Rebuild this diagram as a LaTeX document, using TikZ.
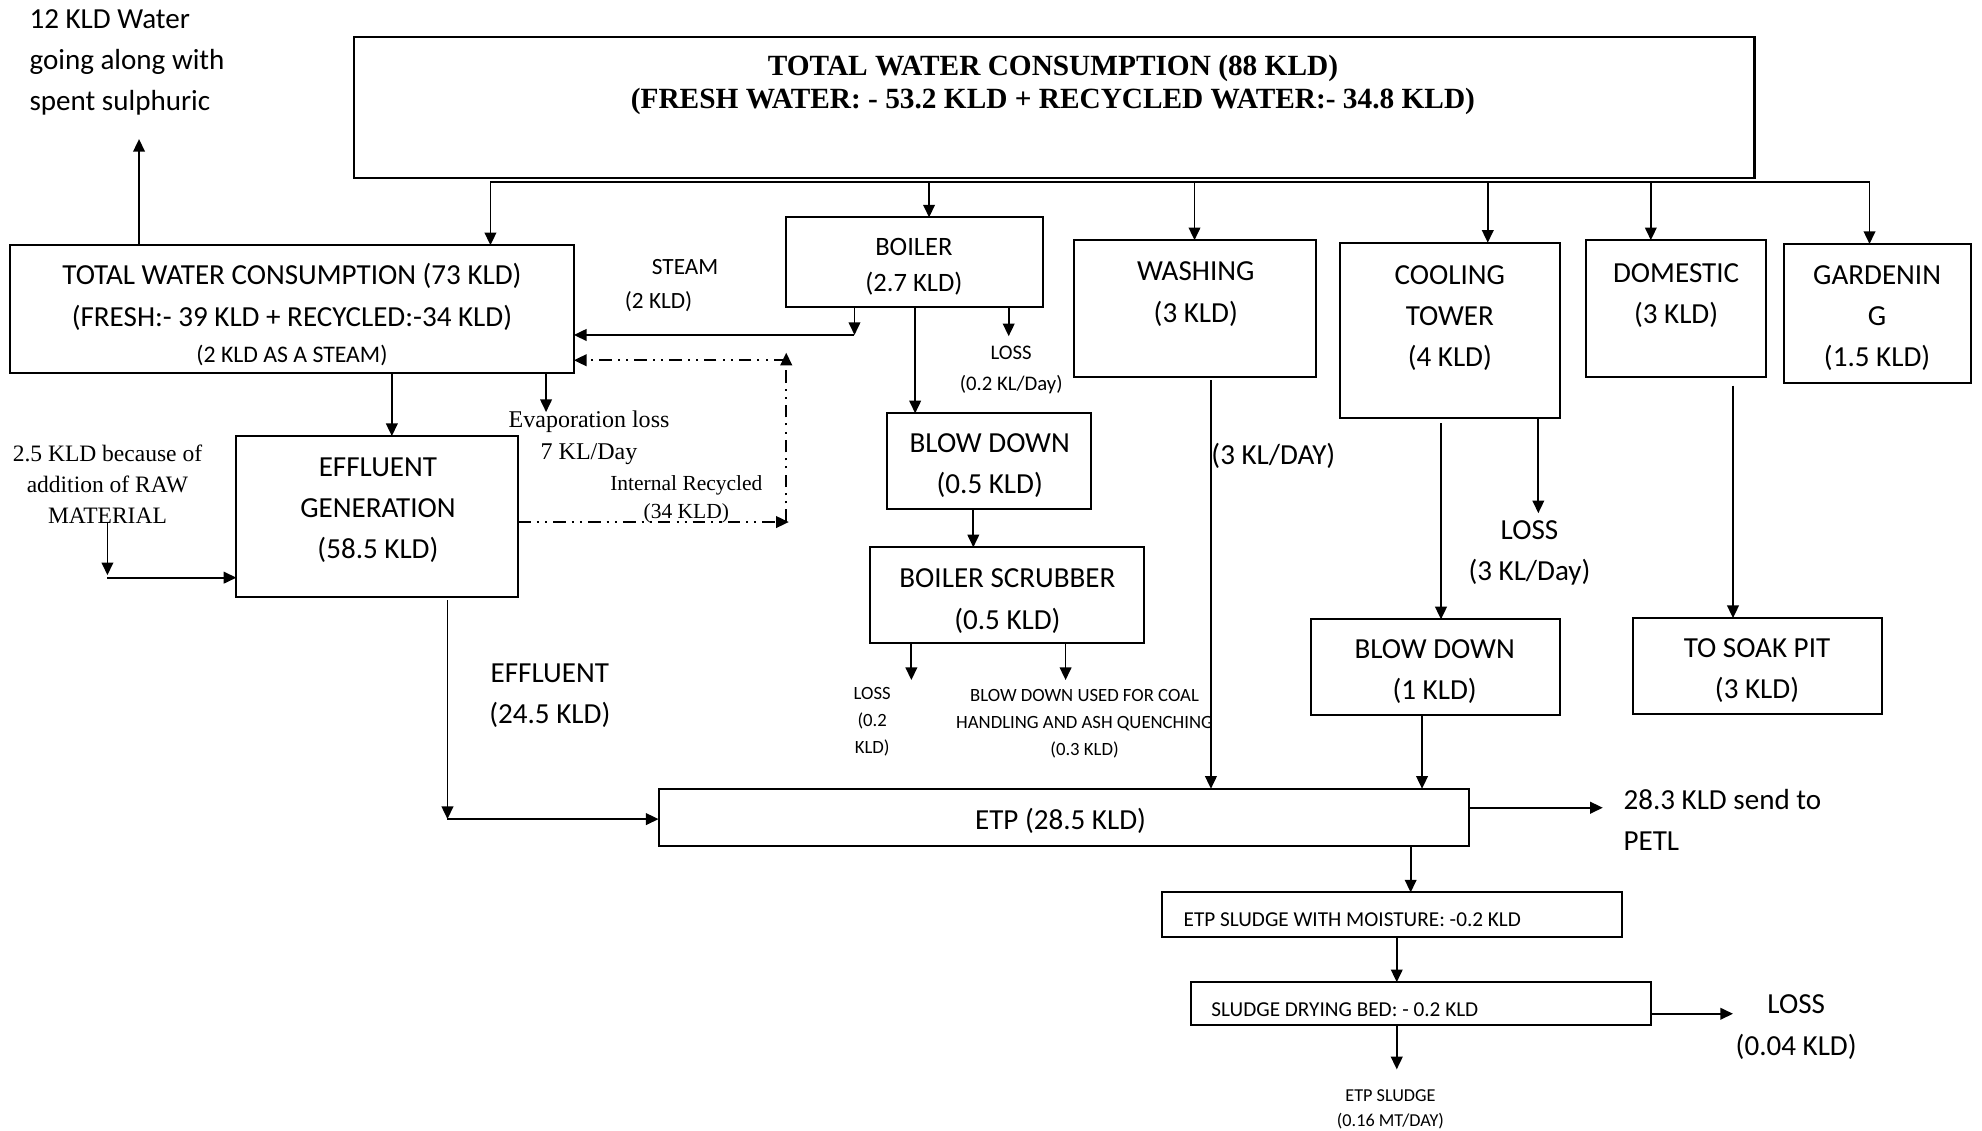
\documentclass[tikz,border=0pt]{standalone}
\usepackage{fontspec}
\setmainfont{Carlito}
\newfontfamily\tnr{Liberation Serif}
\usetikzlibrary{arrows.meta,calc}
\newcommand\myfs[2]{\fontsize{#1}{#2}\selectfont}
\newcommand\mybox[5]{\node[box,minimum width={(#4-#2)*0.5pt},minimum height={(#5-#3)*0.5pt}] (#1) at ({(#2+#4)/2},{(#3+#5)/2}) {};}
\begin{document}
\begin{tikzpicture}[x=0.5pt,y=-0.5pt,
 box/.style={draw,line width=0.8pt,inner sep=0pt,outer sep=0pt},
 arr/.style={line width=0.7pt,-{Triangle[length=5pt,width=4.6pt]}},
 ln/.style={line width=0.7pt},
 dd/.style={line width=0.7pt,dash pattern=on 5pt off 2.4pt on 0.8pt off 2.4pt on 0.8pt off 2.4pt},
 lab/.style={inner sep=0pt,align=center,yshift=-1.3pt,font=\myfs{11.5}{16.3}},
 sml/.style={inner sep=0pt,align=center,yshift=-1.1pt,font=\myfs{7.4}{10.7}},
 ser/.style={inner sep=0pt,align=center,yshift=-1.1pt}]
\useasboundingbox (0,0) rectangle (1568,894);

% boxes
\mybox{top}{280}{29}{1388}{141}
\mybox{t73}{8}{194}{454}{295}
\mybox{boiler}{622}{172}{825}{243}
\mybox{washing}{850}{190}{1041}{298}
\mybox{cooling}{1060}{192}{1234}{331}
\mybox{domestic}{1255}{190}{1397}{298}
\mybox{garden}{1411}{193}{1559}{303}
\mybox{effgen}{187}{345}{410}{472}
\mybox{bdown1}{702}{327}{863}{403}
\mybox{scrub}{688}{433}{905}{509}
\mybox{bdown2}{1037}{490}{1234}{566}
\mybox{soak}{1292}{489}{1489}{565}
\mybox{etp}{521}{624}{1162}{669}
\mybox{sludge}{919}{706}{1283}{741}
\mybox{dry}{942}{777}{1306}{811}

% texts
\node[lab,align=left,anchor=west] (l12) at (23,47) {12 KLD Water\\going along with\\spent sulphuric};
\node[inner sep=0pt,align=center,yshift=-1.5pt,font=\tnr\bfseries\myfs{11.6}{13}] (ttl) at (833,64) {TOTAL WATER CONSUMPTION (88 KLD)\\(FRESH WATER: - 53.2 KLD + RECYCLED WATER:- 34.8 KLD)};
\node[lab] (t73a) at (231,216) {TOTAL WATER CONSUMPTION (73 KLD)};
\node[lab] (t73b) at (231,249) {(FRESH:- 39 KLD + RECYCLED:-34 KLD)};
\node[lab,font=\myfs{9.4}{12}] (t73c) at (231,279) {(2 KLD AS A STEAM)};
\node[lab,font=\myfs{10.5}{14.5}] (boilt) at (723,208.5) {BOILER\\(2.7 KLD)};
\node[lab,font=\myfs{9.2}{12}] (steam) at (542,209) {STEAM};
\node[lab,font=\myfs{9.2}{12}] (steamq) at (521,236) {(2 KLD)};
\node[lab,font=\myfs{8.2}{12}] (bloss) at (800,290) {LOSS\\(0.2 KL/Day)};
\node[ser,font=\tnr\myfs{9.5}{12.5}] (evap) at (466,344) {Evaporation loss\\7 KL/Day};
\node[ser,font=\tnr\myfs{8.5}{11}] (irec) at (543,393) {Internal Recycled\\(34 KLD)};
\node[ser,font=\tnr\myfs{9.3}{12.3}] (raw) at (85,381) {2.5 KLD because of\\addition of RAW\\MATERIAL};
\node[lab] (efft) at (299,401) {EFFLUENT\\GENERATION\\(58.5 KLD)};
\node[lab] (effl) at (435,548) {EFFLUENT\\(24.5 KLD)};
\node[lab] (bd1t) at (783,366) {BLOW DOWN\\(0.5 KLD)};
\node[lab] (scrt) at (797,473) {BOILER SCRUBBER\\(0.5 KLD)};
\node[sml] (sloss) at (690,569) {LOSS\\(0.2\\KLD)};
\node[sml] (coal) at (858,570) {BLOW DOWN USED FOR COAL\\HANDLING AND ASH QUENCHING\\(0.3 KLD)};
\node[lab] (wast) at (946,230) {WASHING\\(3 KLD)};
\node[lab,anchor=west] (wkl) at (958,358) {(3 KL/DAY)};
\node[lab] (coolt) at (1147,249) {COOLING\\TOWER\\(4 KLD)};
\node[lab] (closs) at (1210,435) {LOSS\\(3 KL/Day)};
\node[lab] (domt) at (1326,231) {DOMESTIC\\(3 KLD)};
\node[lab] (gart) at (1485,249) {GARDENIN\\G\\(1.5 KLD)};
\node[lab] (bd2t) at (1135,529) {BLOW DOWN\\(1 KLD)};
\node[lab] (soakt) at (1390,528) {TO SOAK PIT\\(3 KLD)};
\node[lab] (etpt) at (839,647) {ETP (28.5 KLD)};
\node[lab,align=left,anchor=west] (petl) at (1284,646) {28.3 KLD send to\\PETL};
\node[lab,font=\myfs{8.4}{10},anchor=west] (sludt) at (936,725) {ETP SLUDGE WITH MOISTURE: -0.2 KLD};
\node[lab,font=\myfs{8.4}{10},anchor=west] (dryt) at (958,796) {SLUDGE DRYING BED: - 0.2 KLD};
\node[lab] (dloss) at (1421,810) {LOSS\\(0.04 KLD)};
\node[lab,font=\myfs{7.2}{10}] (etps) at (1100,875) {ETP SLUDGE\\(0.16 MT/DAY)};

% coordinates
\coordinate (up12) at (110,110);
\coordinate (b1) at (388,144);
\coordinate (b2) at (735,144);
\coordinate (b3) at (945,144);
\coordinate (b4) at (1177,144);
\coordinate (b5) at (1306,144);
\coordinate (b6) at (1479,144);
\coordinate (stm) at (676,265);
\coordinate (bl) at (798,266);
\coordinate (bbx) at (724,300);
\coordinate (bsx) at (770,420);
\coordinate (slx) at (721,538);
\coordinate (scx) at (843,538);
\coordinate (tex) at (310,320);
\coordinate (evx) at (432,326);
\coordinate (rawA) at (85,414);
\coordinate (rawB) at (85,455);
\coordinate (rawC) at (85,457);
\coordinate (dc) at (624,413);
\coordinate (dv) at (622,413);
\coordinate (dt) at (622,279);
\coordinate (dh) at (622,285);
\coordinate (ec0) at (354,475);
\coordinate (ec) at (354,648);
\coordinate (wx) at (958,301);
\coordinate (cx) at (1140,335);
\coordinate (clx) at (1217,406);
\coordinate (b2x) at (1125,600);
\coordinate (dx) at (1371,305);
\coordinate (petA) at (1268,639);
\coordinate (sx) at (1116,690);
\coordinate (dyx) at (1105,760);
\coordinate (dlA) at (1371,802);
\coordinate (esx) at (1105,846);

% connectors
\draw[arr] (t73.north -| up12) -- (up12);
\draw[ln] (b1) -- (b6);
\draw[arr] (b1) -- (b1 |- t73.north);
\draw[arr] (b2) -- (b2 |- boiler.north);
\draw[arr] (b3) -- (b3 |- washing.north);
\draw[arr] (b4) -- (b4 |- cooling.north);
\draw[arr] (b5) -- (b5 |- domestic.north);
\draw[arr] (b6) -- (b6 |- garden.north);
\draw[arr] (stm |- boiler.south) -- (stm);
\draw[arr] (stm) -- (stm -| t73.east);
\draw[arr] (bl |- boiler.south) -- (bl);
\draw[arr] (bbx |- boiler.south) -- (bbx |- bdown1.north);
\draw[arr] (bsx |- bdown1.south) -- (bsx |- scrub.north);
\draw[arr] (slx |- scrub.south) -- (slx);
\draw[arr] (scx |- scrub.south) -- (scx);
\draw[arr] (tex |- t73.south) -- (tex |- effgen.north);
\draw[arr] (evx |- t73.south) -- (evx);
\draw[arr] (rawA) -- (rawB);
\draw[arr] (rawC) -- (rawC -| effgen.west);
\draw[dd,-{Triangle[length=5pt,width=4.6pt]}] (dc -| effgen.east) -- (dc);
\draw[dd,-{Triangle[length=5pt,width=4.6pt]}] (dv) -- (dt);
\draw[dd,-{Triangle[length=5pt,width=4.6pt]}] (dh) -- (dh -| t73.east);
\draw[arr] (ec0) -- (ec);
\draw[arr] (ec) -- (ec -| etp.west);
\draw[arr] (wx) -- (wx |- etp.north);
\draw[arr] (cx) -- (cx |- bdown2.north);
\draw[arr] (clx |- cooling.south) -- (clx);
\draw[arr] (b2x |- bdown2.south) -- (b2x |- etp.north);
\draw[arr] (dx) -- (dx |- soak.north);
\draw[arr] (petA -| etp.east) -- (petA);
\draw[arr] (sx |- etp.south) -- (sx |- sludge.north);
\draw[arr] (dyx |- sludge.south) -- (dyx |- dry.north);
\draw[arr] (dlA -| dry.east) -- (dlA);
\draw[arr] (esx |- dry.south) -- (esx);
\end{tikzpicture}
\end{document}
